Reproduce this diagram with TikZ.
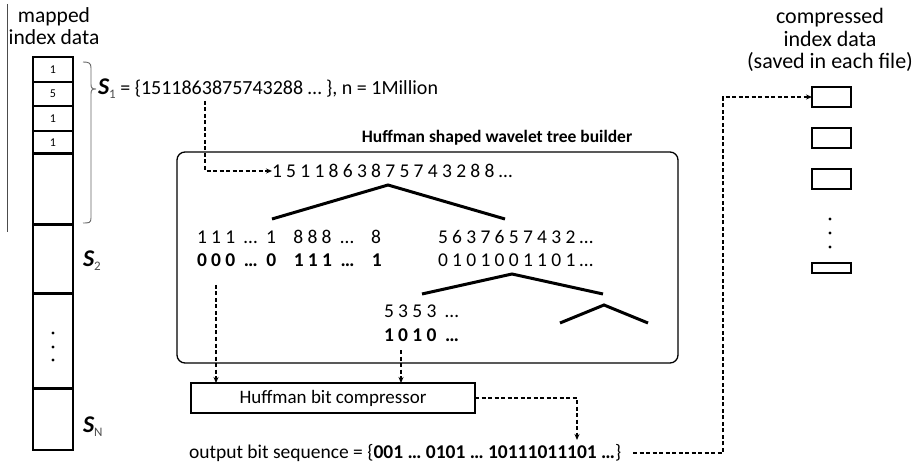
\documentclass[tikz,border=0pt]{standalone}
\usepackage{fontspec}
\setmainfont{Carlito}
\newfontfamily\digA[LetterSpace=22]{Carlito}
\usetikzlibrary{arrows.meta,calc}
\begin{document}
\begin{tikzpicture}[x=1pt,y=-1pt,
  every node/.style={inner sep=0pt,outer sep=0pt,font=\fontsize{20}{22.5}\selectfont},
  cell/.style={draw,line width=1.3pt,minimum width=40,anchor=north},
  thick3/.style={line width=3pt},
  treeline/.style={line width=3pt},
  dasharrow/.style={line width=1.2pt,dash pattern=on 4pt off 2.5pt,-{Stealth[length=6pt,width=5pt]}},
  small/.style={font=\fontsize{19.5}{21}\selectfont},
  fbox/.style={draw,line width=1.3pt,minimum width=39},
  head/.style={align=center,font=\fontsize{21.5}{22.5}\selectfont}
]
\useasboundingbox (0,0) rectangle (919,465);
% left vertical line
\draw[line width=1pt,black!70] (7,4) -- (7,232);
\node[head] (mapped) at (54,26) {mapped\\index data};
% column cells
\node[cell,minimum height=25,font=\fontsize{12}{12}\selectfont] (c1) at (53,57) {1};
\node[cell,minimum height=24,font=\fontsize{12}{12}\selectfont] (c2) at (53,82) {5};
\node[cell,minimum height=25,font=\fontsize{12}{12}\selectfont] (c3) at (53,106) {1};
\node[cell,minimum height=23,font=\fontsize{12}{12}\selectfont] (c4) at (53,131) {1};
\node[cell,minimum height=71] (c5) at (53,154) {};
\node[cell,minimum height=69] (c6) at (53,225) {};
\node[cell,minimum height=94] (c7) at (53,294) {};
\node[cell,minimum height=62] (c8) at (53,388) {};
\draw[thick3] (c4.south west) -- (c4.south east);
\draw[thick3] (c5.south west) -- (c5.south east);
\draw[thick3] (c6.south west) -- (c6.south east);
\draw[thick3] (c7.south west) -- (c7.south east);
\foreach \y in {333,347,360} \fill (53,\y) circle (1.6);
% brace
\draw[line width=0.9pt,black!60] (83,62) .. controls (89,62) and (91,63) .. (91,68) -- (91,84)
  .. controls (91,88) and (92,89) .. (96,89) .. controls (92,89) and (91,90) .. (91,94)
  -- (91,218) .. controls (91,223) and (89,223) .. (83,223);
% labels S
\newcommand{\Slab}[1]{{\fontsize{24}{24}\selectfont\bfseries\itshape S}\raisebox{-0.4ex}{\fontsize{13}{13}\selectfont\color{black!70}#1}}
\node[anchor=west] (s1) at (98,89) {\Slab{1} = \{1511863875743288 \dots\ \}, n = 1Million};
\node[anchor=west] (s2) at (83,261) {\Slab{2}};
\node[anchor=west] (sn) at (83,427) {\Slab{N}};
% builder
\node[font=\fontsize{17.5}{20}\selectfont\bfseries] (title) at (497,138) {Huffman shaped wavelet tree builder};
\node[draw,rounded corners=8pt,line width=1.3pt,minimum width=501,minimum height=211] (builder) at (427.5,257.5) {};
\node[anchor=west,small] (seq) at (272,171) {\digA 1511863875743288\dots};
\coordinate (s1out) at (205,101);
\draw[dasharrow] (s1out) |- (seq.west);
% tree 1
\draw[treeline] (272,219) -- (388,185) -- (505,219);
\node[anchor=west,small] (l1) at (197,237) {\digA 111 \dots\ 1 \ 888 \dots\ \ 8};
\node[anchor=west,small] (l2) at (197,260) {\digA\bfseries 000 \dots\ 0 \ 111 \dots\ \ 1};
\node[anchor=west,small] (r1) at (438,237) {\digA 5637657432\dots};
\node[anchor=west,small] (r2) at (438,260) {\digA 0101001101\dots};
% tree 2
\draw[treeline] (422,294) -- (512,274) -- (603,294);
\draw[treeline] (560,323) -- (604,305) -- (648,323);
\node[anchor=west,small] (m1) at (384,311) {\digA 5353 \dots};
\node[anchor=west,small] (m2) at (384,335) {\digA\bfseries 1010 \dots};
% compressor
\node[draw,line width=1.1pt,minimum width=284,minimum height=30,font=\fontsize{19}{22}\selectfont] (comp) at (333,398) {Huffman bit compressor};
\coordinate (o1) at (216,285);
\coordinate (o2) at (401,350);
\draw[dasharrow] (o1) -- (o1 |- comp.north);
\draw[dasharrow] (o2) -- (o2 |- comp.north);
\node[anchor=west,font=\fontsize{19.5}{20}\selectfont] (out) at (189,453) {output bit sequence = \{\textbf{001 \dots\ 0101 \dots\ 10111011101 \dots}\}};
\coordinate (outin) at (577,440);
\draw[dasharrow] (comp.east) -| (outin);
% right side
\node[head,font=\fontsize{22}{22.5}\selectfont] (comphead) at (830,40) {compressed\\index data\\(saved in each file)};
\node[fbox,minimum height=20] (b1) at (831.5,97) {};
\node[fbox,minimum height=20] (b2) at (831.5,138) {};
\node[fbox,minimum height=20] (b3) at (831.5,179) {};
\node[fbox,minimum height=10] (b4) at (831.5,268) {};
\foreach \y in {219,233,247} \fill (830,\y) circle (1.6);
\coordinate (ostart) at ($(out.east)+(12,0)$);
\draw[dasharrow] (ostart) -- (723,453) |- (b1.west);
\end{tikzpicture}
\end{document}
